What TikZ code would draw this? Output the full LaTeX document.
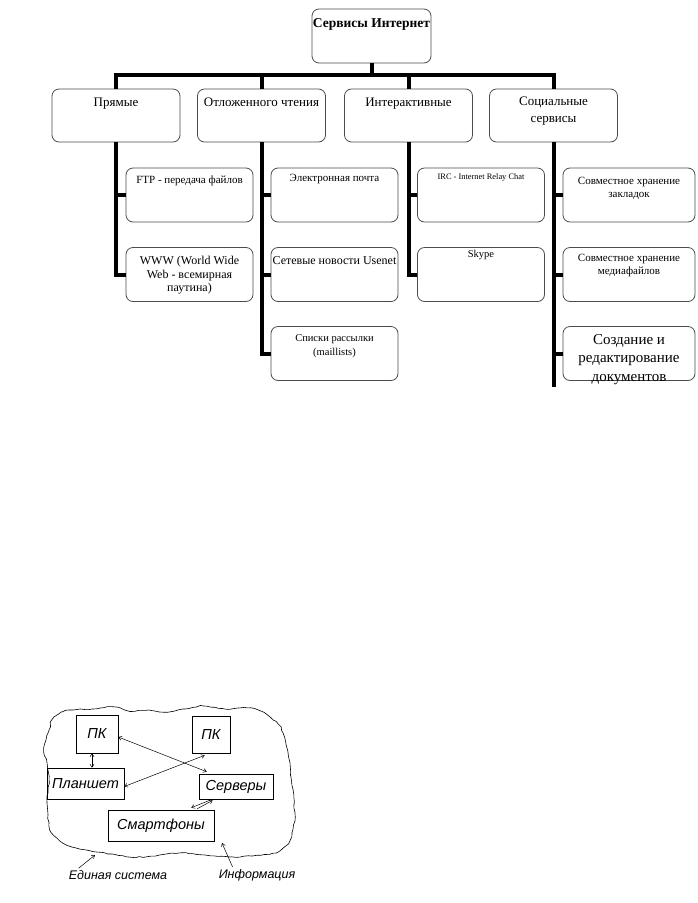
\documentclass[tikz,border=0pt]{standalone}
\usepackage{fontspec}
\setmainfont{Liberation Serif}
\setsansfont{Liberation Sans}
\usetikzlibrary{arrows.meta,calc,decorations.pathmorphing}
\tikzset{
  conn/.style={line width=4pt, line join=miter, line cap=butt},
  rbox/.style={draw=black!70, line width=0.8pt, rounded corners=7pt, fill=white, inner sep=0pt},
  lvlbox/.style={rbox, minimum width=128pt, minimum height=53pt},
  subbox/.style={rbox, minimum width=127pt, minimum height=54pt},
  socbox/.style={rbox, minimum width=132pt, minimum height=54pt},
  txt/.style={inner sep=0pt, align=center, anchor=north},
  sqbox/.style={draw, line width=0.6pt, inner sep=0pt, font=\sffamily\itshape\fontsize{14.5}{16}\selectfont},
  thin arrow/.style={line width=0.5pt, {Straight Barb[length=3pt,width=4pt]}-{Straight Barb[length=3pt,width=4pt]}},
  lbl arrow/.style={line width=0.5pt, -{Straight Barb[length=3pt,width=4pt]}},
  lbl/.style={font=\sffamily\itshape\fontsize{12.5}{14}\selectfont, inner sep=0pt},
  cloud line/.style={line width=0.6pt, line join=round, decorate, decoration={random steps, segment length=4pt, amplitude=0.6pt}}
}
\begin{document}
\begin{tikzpicture}[x=1pt,y=-1pt]
\useasboundingbox (0,0) rectangle (697,903);
% ---------- top chart ----------
\node[rbox, minimum width=119pt, minimum height=54pt] (root) at (371.5,36) {};
\node[txt, font=\bfseries\fontsize{13.5}{16}\selectfont] (roott) at (371.5,18) {Сервисы Интернет};
\coordinate (bus) at (371.5,75);

\node[lvlbox] (p) at (116,115.5) {};
\node[lvlbox] (o) at (261.5,115.5) {};
\node[lvlbox] (i) at (408.5,115.5) {};
\node[lvlbox] (s) at (553.5,115.5) {};
\node[txt, font=\fontsize{13}{17}\selectfont] (pt) at (116,98) {Прямые};
\node[txt, font=\fontsize{13}{17}\selectfont] (ot) at (261.5,98) {Отложенного чтения};
\node[txt, font=\fontsize{13}{17}\selectfont] (it) at (408.5,98) {Интерактивные};
\node[txt, font=\fontsize{13}{17}\selectfont] (st) at (553.5,97) {Социальные\\сервисы};

\draw[conn] (root.south) -- (bus);
\draw[conn] (p.north) -- (p.north |- bus) -- (s.north |- bus) -- (s.north);
\draw[conn] (o.north) -- (o.north |- bus);
\draw[conn] (i.north) -- (i.north |- bus);

% sub boxes
\node[subbox] (ftp) at (189.5,195) {};
\node[subbox] (www) at (189.5,274.5) {};
\node[subbox] (mail) at (334.5,195) {};
\node[subbox] (news) at (334.5,274.5) {};
\node[subbox] (list) at (334.5,353.5) {};
\node[subbox] (irc) at (481,195) {};
\node[subbox] (sky) at (481,274.5) {};
\node[socbox] (bm) at (629,195) {};
\node[socbox] (med) at (629,274.5) {};
\node[socbox] (doc) at (629,353.5) {};

\node[txt, font=\fontsize{11}{13}\selectfont] (ftpt) at (189.5,175.5) {FTP - передача файлов};
\node[txt, font=\fontsize{12}{13.5}\selectfont] (wwwt) at (189.5,256) {WWW (World Wide\\Web - всемирная\\паутина)};
\node[txt, font=\fontsize{11}{12}\selectfont] (mailt) at (334.5,174.5) {Электронная почта};
\node[txt, font=\fontsize{12}{14}\selectfont] (newst) at (334.5,256) {Сетевые новости Usenet};
\node[txt, font=\fontsize{10.5}{14}\selectfont] (listt) at (334.5,334) {Списки рассылки\\(maillists)};
\node[txt, font=\fontsize{8.4}{10}\selectfont] (irct) at (481,173.5) {IRC - Internet Relay Chat};
\node[txt, font=\fontsize{10.5}{13}\selectfont] (skyt) at (481,250) {Skype};
\node[txt, font=\fontsize{11}{13}\selectfont] (bmt) at (629,177.5) {Совместное хранение\\закладок};
\node[txt, font=\fontsize{11}{13}\selectfont] (medt) at (629,254.5) {Совместное хранение\\медиафайлов};
\node[txt, font=\fontsize{15}{18.5}\selectfont] (doct) at (629,334) {Создание и\\редактирование\\документов};

\coordinate (send) at (553.5,387);
\draw[conn] (p.south) |- (www.west);
\draw[conn] (ftp.west) -- (ftp.west -| p.south);
\draw[conn] (o.south) |- (list.west);
\draw[conn] (mail.west) -- (mail.west -| o.south);
\draw[conn] (news.west) -- (news.west -| o.south);
\draw[conn] (i.south) |- (sky.west);
\draw[conn] (irc.west) -- (irc.west -| i.south);
\draw[conn] (s.south) -- (send);
\draw[conn] (bm.west) -- (bm.west -| s.south);
\draw[conn] (med.west) -- (med.west -| s.south);
\draw[conn] (doc.west) -- (doc.west -| s.south);

% ---------- bottom diagram ----------
\draw[cloud line] plot[smooth cycle, tension=0.6] coordinates {
 (52,720) (62,712) (73,710) (92,709) (113,707) (130,711) (148,710) (163,712) (185,709)
 (203,706) (225,709) (247,708) (260,711) (270,717) (278,724) (283,733) (287,748)
 (290,763) (291,777) (293,790) (294,804) (295,817) (293,829) (290,840) (283,848)
 (273,853) (252,856) (230,857) (205,855) (180,853) (155,856) (130,857) (112,854)
 (97,852) (80,849) (67,845) (57,838) (50,830) (48,815) (47,800) (49,780) (47,763)
 (44,752) (46,740) (49,730)};
\coordinate (c1) at (95,855);
\coordinate (c2) at (222,843);

\node[sqbox, minimum width=42pt, minimum height=38pt] (pk1) at (97,734) {ПК};
\node[sqbox, minimum width=38pt, minimum height=37pt] (pk2) at (211,734.5) {ПК};
\node[sqbox, minimum width=77pt, minimum height=31pt] (plan) at (85.5,783.5) {Планшет};
\node[sqbox, minimum width=74pt, minimum height=25pt] (serv) at (236,786.5) {Серверы};
\node[sqbox, minimum width=106pt, minimum height=31pt] (smart) at (161,825.5) {Смартфоны};

\draw[thin arrow] ([xshift=-5pt]pk1.south) -- ([xshift=6.5pt]plan.north);
\draw[thin arrow] ([yshift=-3pt]pk1.east) -- ([xshift=8pt,yshift=2pt]serv.north west);
\draw[thin arrow] ([yshift=-3pt]plan.east) -- ([xshift=13pt,yshift=-2pt]pk2.south west);
\draw[lbl arrow] ([xshift=11pt,yshift=-1pt]serv.south west) -- ([xshift=-23pt,yshift=2pt]smart.north east);
\draw[lbl arrow] ([xshift=-17pt,yshift=1pt]smart.north east) -- ([xshift=14pt,yshift=-1pt]serv.south west);

\node[lbl] (es) at (118,875) {Единая система};
\node[lbl] (inf) at (257,875) {Информация};
\draw[lbl arrow] ([xshift=10pt,yshift=2pt]es.north west) -- (c1);
\draw[lbl arrow] ([xshift=14pt,yshift=2pt]inf.north west) -- (c2);
\end{tikzpicture}
\end{document}
